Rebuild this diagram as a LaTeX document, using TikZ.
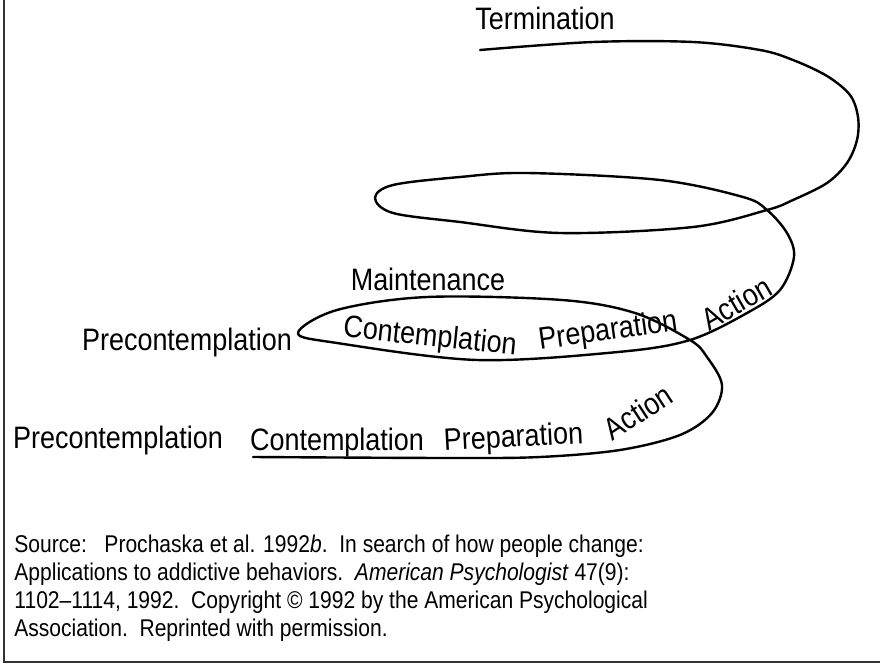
\documentclass[tikz,border=0pt]{standalone}
\usepackage{fontspec}
\setmainfont{Liberation Sans}
\newfontfamily\condsans[FakeStretch=0.87]{Liberation Sans}
\begin{document}
\begin{tikzpicture}[x=0.5pt,y=-0.5pt,
  lbl/.style={inner sep=0pt, font=\condsans\fontsize{15.5}{18}\selectfont},
  captext/.style={inner sep=0pt, anchor=base west, font=\condsans\fontsize{12.1}{14}\selectfont},
  spiral/.style={line width=1.2pt, line join=round, line cap=round},
  frameline/.style={line width=0.7pt, black!80}]
\useasboundingbox (0,0) rectangle (880,664);
% frame
\coordinate (ftl) at (4,0);
\coordinate (fbl) at (4,662);
\coordinate (fbr) at (880,662);
\draw[frameline] (ftl) -- (fbl) -- (fbr);
% spiral
\draw[spiral] plot[smooth, tension=0.55] coordinates {
 (480,50) (593,42) (693,42) (760,50) (793,60) (827,76) (850,95) (858,117)
 (857,140) (847,163) (827,183) (793,200) (767,210) (693,227) (560,233)
 (460,222) (393,213) (375,198) (393,185) (460,177) (527,173)
 (660,180) (743,197) (767,210) (787,233) (794,257) (780,290) (747,313) (690,340)
 (618,352) (477,360) (337,343) (298,333) (337,310) (427,297) (562,300) (635,313)
 (690,340) (707,357) (722,385) (712,413) (680,435) (620,450) (540,457) (450,458)
 (253,457)};
% labels
\node[lbl, anchor=base] (term) at (545,30) {Termination};
\node[lbl, anchor=base] (maint) at (428,290) {Maintenance};
\node[lbl, anchor=base] (pc2) at (187,350) {Precontemplation};
\node[lbl, rotate=-6] (ct2) at (430,338) {Contemplation};
\node[lbl, rotate=8] (pr2) at (608,332) {Preparation};
\node[lbl, rotate=30] (ac2) at (736,303) {Action};
\node[lbl, anchor=base] (pc1) at (118,448) {Precontemplation};
\node[lbl, anchor=base] (ct1) at (337,450) {Contemplation};
\node[lbl, anchor=base, rotate=3] (pr1) at (514,447) {Preparation};
\node[lbl, rotate=33] (ac1) at (638,412) {Action};
% caption
\node[captext] (c1) at (14,552) {Source:\ \ \ Prochaska et al. 1992\textit{b}.\ \ In search of how people change:};
\node[captext] (c2) at (14,580) {Applications to addictive behaviors.\ \ \textit{American Psychologist} 47(9):};
\node[captext] (c3) at (14,608) {1102–1114, 1992.\ \ Copyright © 1992 by the American Psychological};
\node[captext] (c4) at (14,636) {Association.\ \ Reprinted with permission.};
\end{tikzpicture}
\end{document}
